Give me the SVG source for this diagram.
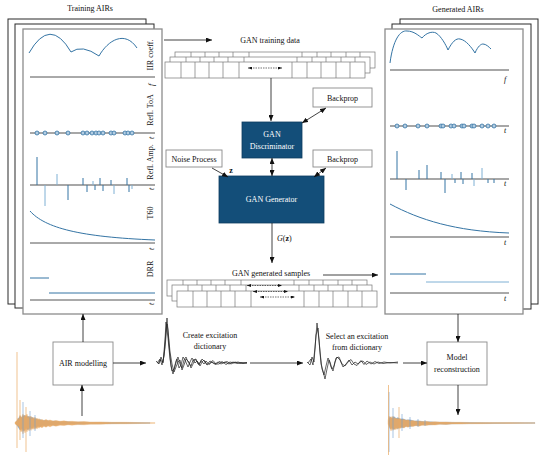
<svg xmlns="http://www.w3.org/2000/svg" xmlns:xlink="http://www.w3.org/1999/xlink" width="545" height="459" viewBox="0 0 545 459">
<style>
text{font-family:"Liberation Serif","Times New Roman",serif;font-size:8px;fill:#111}
.pg{fill:#fff;stroke:#2a2a2a;stroke-width:1}
.pgf{fill:#fff;stroke:#8c8c8c;stroke-width:1.3}
.box{fill:#fff;stroke:#8a8a8a;stroke-width:0.9}
.gan{fill:#134e79;stroke:#0d3d60;stroke-width:0.8}
.gt{fill:#fff;font-size:8px}
.ax{stroke:#555;stroke-width:1}
.axg{stroke:#8a8a8a;stroke-width:1.6}
.cv{fill:none;stroke:#3474a4;stroke-width:1}
.sp{stroke:#3474a4;stroke-width:1}
.spl{stroke:#7fb0d4;stroke-width:1}
.dot{fill:#b3cde2;stroke:#3474a4;stroke-width:0.8}
.ln{fill:none;stroke:#111;stroke-width:0.8}
.dl{fill:none;stroke:#111;stroke-width:0.6;stroke-dasharray:1.5 1}
.cell{fill:#fff;stroke:#777;stroke-width:0.7}
.it{font-style:italic}
.ex{fill:none;stroke:#222;stroke-width:0.7}
.wo{fill:#eaa962;stroke:#eaa962;stroke-width:0.3;opacity:0.9}
.wb{fill:#7aa6d2;stroke:#7aa6d2;stroke-width:0.3}
.so{stroke:#eaa962;stroke-width:0.7}
.sb{stroke:#6f9fd0;stroke-width:0.6}
</style>
<defs>
<marker id="ah" markerWidth="6" markerHeight="5" refX="6" refY="2.5" orient="auto-start-reverse" markerUnits="userSpaceOnUse">
<path d="M0,0 L6,2.5 L0,5 z" fill="#111"/>
</marker>
<marker id="sh" markerWidth="4" markerHeight="3" refX="4" refY="1.5" orient="auto-start-reverse" markerUnits="userSpaceOnUse">
<path d="M0,0 L4,1.5 L0,3 z" fill="#111"/>
</marker>
<g id="row">
<rect class="cell" x="0" y="0" width="200" height="16"/>
<path class="cell" d="M16,0V16M30,0V16M44,0V16M58,0V16M74,0V16M127,0V16M142,0V16M156,0V16M171,0V16M185,0V16"/>
</g>
</defs>

<text x="90" y="11" text-anchor="middle" font-size="8.5">Training AIRs</text>
<text x="458" y="12" text-anchor="middle" font-size="8.5">Generated AIRs</text>

<g id="training-airs">
<rect class="pg" x="8" y="19" width="138" height="285"/>
<rect class="pg" x="15" y="24" width="139" height="284"/>
<rect class="pgf" x="23" y="29" width="139" height="285"/>
<path class="cv" d="M29,53 Q50,16 71,52 Q82,44 99,56 C108,40 125,30 137,48"/>
<line class="ax" x1="30" y1="77" x2="155" y2="77"/>
<text transform="translate(153,55) rotate(-90)" text-anchor="middle">IIR coeff.</text>
<text class="it" transform="translate(154,85) rotate(-90)" text-anchor="middle">f</text>
<line class="axg" x1="30" y1="133" x2="155" y2="133"/>
<g class="dot">
<circle cx="37" cy="133" r="2"/><circle cx="45" cy="133" r="2"/><circle cx="57" cy="133" r="2"/><circle cx="68" cy="133" r="2"/><circle cx="83" cy="133" r="2"/><circle cx="87" cy="133" r="2"/><circle cx="92" cy="133" r="2"/><circle cx="96" cy="133" r="2"/><circle cx="99" cy="133" r="2"/><circle cx="103" cy="133" r="2"/><circle cx="111" cy="133" r="2"/><circle cx="114" cy="133" r="2"/><circle cx="125" cy="133" r="2"/><circle cx="128" cy="133" r="2"/><circle cx="132" cy="133" r="2"/>
</g>
<text transform="translate(153,110) rotate(-90)" text-anchor="middle">Refl. ToA</text>
<text class="it" transform="translate(154,138) rotate(-90)" text-anchor="middle">t</text>
<line class="axg" x1="30" y1="185" x2="155" y2="185"/>
<path class="sp" d="M37,185V157M68,185V200M83,185V178M87,185V192M95,185V190M100,185V178M103,185V191M111,185V180M127,185V178M129,185V192"/>
<path class="spl" d="M45,185V206M57,185V174M93,185V181M114,185V194M132,185V189"/>
<text transform="translate(153,162) rotate(-90)" text-anchor="middle">Refl. Amp.</text>
<text class="it" transform="translate(154,189) rotate(-90)" text-anchor="middle">t</text>
<path class="cv" d="M30,211 C45,228 80,237 155,240"/>
<line class="ax" x1="30" y1="243" x2="155" y2="243"/>
<text transform="translate(153,213) rotate(-90)" text-anchor="middle">T60</text>
<text class="it" transform="translate(154,249) rotate(-90)" text-anchor="middle">t</text>
<path class="sp" d="M30,278H49M49,293H155"/>
<line class="ax" x1="30" y1="300" x2="155" y2="300"/>
<text transform="translate(153,269) rotate(-90)" text-anchor="middle">DRR</text>
<text class="it" transform="translate(154,304) rotate(-90)" text-anchor="middle">t</text>
</g>

<g id="generated-airs">
<rect class="pg" x="400" y="19" width="138" height="285"/>
<rect class="pg" x="392" y="24" width="139" height="285"/>
<rect class="pgf" x="385" y="29" width="138" height="285"/>
<path class="cv" d="M390,63 C393,40 400,30 407,31 C414,31 419,36 422,38 C426,33 432,31 436,33 C441,36 446,45 448,50 C452,42 456,38 460,39 C466,40 472,48 475,53 C478,46 481,44 483,44 C486,44 489,47 491,49"/>
<line class="axg" x1="390" y1="70" x2="509" y2="70"/>
<text class="it" x="505" y="82" text-anchor="middle">f</text>
<line class="axg" x1="390" y1="126" x2="509" y2="126"/>
<g class="dot">
<circle cx="397" cy="126" r="2"/><circle cx="405" cy="126" r="2"/><circle cx="418" cy="126" r="2"/><circle cx="427" cy="126" r="2"/><circle cx="441" cy="126" r="2"/><circle cx="443" cy="126" r="2"/><circle cx="451" cy="126" r="2"/><circle cx="454" cy="126" r="2"/><circle cx="462" cy="126" r="2"/><circle cx="464" cy="126" r="2"/><circle cx="472" cy="126" r="2"/><circle cx="474" cy="126" r="2"/><circle cx="482" cy="126" r="2"/><circle cx="488" cy="126" r="2"/><circle cx="494" cy="126" r="2"/>
</g>
<text class="it" x="505" y="133" text-anchor="middle">t</text>
<line class="axg" x1="390" y1="179" x2="509" y2="179"/>
<path class="sp" d="M397,179V151M406,179V190M419,179V170M427,179V165M441,179V172M445,179V193M455,179V183M461,179V172M463,179V184M472,179V173M488,179V183M494,179V183"/>
<path class="spl" d="M452,179V174M474,179V186M482,179V168"/>
<text class="it" x="505" y="186" text-anchor="middle">t</text>
<path class="cv" d="M390,204 C420,220 455,231 509,233"/>
<line class="axg" x1="390" y1="237" x2="509" y2="237"/>
<text class="it" x="505" y="245" text-anchor="middle">t</text>
<path class="sp" d="M390,274H426"/>
<path class="spl" d="M426,282H509" stroke-width="1.3"/>
<line class="ax" x1="390" y1="293" x2="509" y2="293"/>
<text class="it" x="505" y="301" text-anchor="middle">t</text>
</g>

<g id="gan-training-data">
<text x="270" y="43" text-anchor="middle">GAN training data</text>
<use xlink:href="#row" x="175" y="52"/>
<use xlink:href="#row" x="170" y="57"/>
<use xlink:href="#row" x="165" y="62"/>
<line class="dl" x1="248" y1="68" x2="282" y2="68" marker-start="url(#sh)" marker-end="url(#sh)"/>
</g>

<g id="discriminator">
<rect class="gan" x="242" y="122" width="60" height="36"/>
<text class="gt" x="272" y="137" text-anchor="middle">GAN</text>
<text class="gt" x="272" y="149" text-anchor="middle">Discriminator</text>
</g>
<g id="backprop-top">
<rect class="box" x="313" y="88" width="59" height="19"/>
<text x="342.5" y="100.5" text-anchor="middle">Backprop</text>
</g>
<g id="noise-process">
<rect class="box" x="166" y="150" width="56" height="17"/>
<text x="194" y="161.5" text-anchor="middle">Noise Process</text>
</g>
<text x="231" y="173" font-weight="bold" text-anchor="middle">z</text>
<g id="backprop-bottom">
<rect class="box" x="313" y="150" width="59" height="17"/>
<text x="342.5" y="161.5" text-anchor="middle">Backprop</text>
</g>
<g id="generator">
<rect class="gan" x="219" y="176" width="105" height="47"/>
<text class="gt" x="271.5" y="202" text-anchor="middle">GAN Generator</text>
</g>
<text x="277" y="241"><tspan class="it">G</tspan>(<tspan font-weight="bold">z</tspan>)</text>

<g id="gan-generated-samples">
<text x="271" y="276" text-anchor="middle">GAN generated samples</text>
<use xlink:href="#row" x="167" y="280"/>
<use xlink:href="#row" x="172" y="285"/>
<use xlink:href="#row" x="177" y="291"/>
<line class="dl" x1="247" y1="285.5" x2="282" y2="285.5" marker-start="url(#sh)" marker-end="url(#sh)"/>
<line class="dl" x1="253" y1="291.5" x2="288" y2="291.5" marker-start="url(#sh)" marker-end="url(#sh)"/>
<line class="dl" x1="260" y1="297" x2="295" y2="297" marker-start="url(#sh)" marker-end="url(#sh)"/>
</g>

<g id="air-modelling">
<rect class="box" x="53" y="342" width="60" height="43"/>
<text x="83" y="366" text-anchor="middle">AIR modelling</text>
</g>
<g id="model-reconstruction">
<rect class="box" x="427" y="342" width="60" height="43"/>
<text x="457" y="360" text-anchor="middle">Model</text>
<text x="457" y="372" text-anchor="middle">reconstruction</text>
</g>

<g id="excitation-dictionary">
<path class="ex" d="M157,363 L160,359 L162,365 L164,356 L166,330 L167,318 L169,345 L171,366 L173,374 L175,366 L177,359 L179,368 L181,365 L183,357 L185,360 L188,367 L190,362 L192,358 L195,363 L197,361 L199,365 L201,360.5 L204,364 L206,361 L209,364.5 L212,362 L215,364 L218,362 L221,364 L225,362 L229,364 L233,362 L237,363.5 L241,362.5 L247,363"/>
<path class="ex" stroke="#555" d="M156,361 L159,364 L161,357 L163,363 L165,340 L166,322 L168,338 L170,359 L172,371 L174,369 L176,361 L178,357 L180,364 L182,368 L184,360 L186,357 L188,362 L191,366 L193,360 L196,359 L198,364 L200,363 L202,359 L205,362 L207,364.5 L210,361 L213,363 L216,364.5 L219,361.5 L223,363 L227,361.5 L231,364 L235,362 L240,363.5 L247,362.5"/>
<path class="ex" stroke="#444" d="M158,364 L160,360 L163,362 L165,348 L167,324 L168,330 L170,352 L172,364 L174,372 L176,367 L178,362 L180,360 L182,370 L184,365 L186,359 L189,362 L191,368 L193,364 L195,359.5 L198,362 L200,366 L202,362 L204,360 L207,365 L210,363 L213,360.5 L216,364 L219,364 L222,361.5 L226,364.5 L230,362 L234,363 L238,362 L243,363.5 L247,363"/>
<text x="210" y="338" text-anchor="middle">Create excitation</text>
<text x="210" y="349" text-anchor="middle">dictionary</text>
</g>
<g id="selected-excitation">
<path class="ex" d="M308,363 L311,359 L313,365 L315,348 L317,323 L319,340 L321,364 L323,371 L325,379 L327,369 L329,360 L331,367 L333,371 L335,362 L337,357 L340,360 L343,367 L346,364 L349,360 L352,365 L355,362 L358,364 L361,360.5 L364,364.5 L367,361 L371,364 L375,361.5 L379,363.5 L384,362 L390,363 L398,362"/>
<path class="ex" stroke="#555" d="M307,362 L310,365 L312,357 L314,362 L316,335 L318,328 L320,352 L322,369 L324,375 L326,366 L328,358 L330,362 L332,369 L334,366 L336,358 L339,357 L342,364 L345,366 L348,362 L351,359.5 L354,364 L357,365.5 L360,362 L363,361 L366,364.5 L370,362 L374,364 L378,362 L383,363.5 L390,362.5 L398,363"/>
<text x="357" y="339" text-anchor="middle">Select an excitation</text>
<text x="357" y="350" text-anchor="middle">from dictionary</text>
</g>

<g id="measured-air">
<path class="wb" d="M16,422 18,419 20,416 22,418 24,415 26,417 28,416 30,418 32,417 34,419 36,418.5 38,420 40,419.5 43,420.5 46,420.3 50,421.2 55,421 60,421.8 66,421.6 72,422.1 80,422 90,422.4 105,422.4 120,422.6 150,422.8 150,423.2 120,423.5 105,423.7 90,423.8 80,424.2 72,424.1 66,424.6 60,424.4 55,425.2 50,424.9 46,426 43,425.6 40,426.8 38,426 36,427.6 34,426.5 32,428.5 30,427 28,430 26,428 24,431 22,428.5 20,430 18,427 16,424z"/>
<path class="wo" d="M15,422 17,421 18,418 19,420 20,415 21,418 22,416 23,414 24,417 25,415 26,416 27,414 28,418 29,416 30,417 31,416 32,419 33,417 34,418.5 35,417 36,419.5 37,418 38,419.5 39,418.5 40,420 42,419.5 44,420.5 46,419.5 48,420.5 50,420 53,421 56,420.5 60,421.3 64,420.8 68,421.6 72,421.3 78,421.8 84,421.6 90,422 100,421.9 112,422.3 125,422.3 140,422.6 155,422.7 155,423.3 140,423.5 125,423.8 112,423.8 100,424.2 90,424.3 84,424.8 78,424.6 72,425.2 68,424.8 64,425.6 60,425.2 56,426.2 53,425.6 50,426.8 48,426 46,427.2 44,426.3 42,427.8 40,426.8 39,428.3 38,427 37,429 36,427.5 35,429.5 34,428 33,429.5 32,428 31,430.5 30,428.5 29,431 28,428 27,432 26,429 25,433 24,429.5 23,434 22,430 21,432 20,429 19,427 18,426 17,425 15,424z"/>
<path class="sb" d="M23,423V402M23,423V438M30,423V411M30,423V436M35,423V415M35,423V431"/>
<path class="so" d="M17,423V352M17,423V448M26,423V407M26,423V452M20,423V400M20,423V440"/>
</g>
<g id="reconstructed-air">
<path class="wb" d="M389,421 390,417 392,418.5 394,416.5 396,418.5 398,417.5 400,419 403,418.8 406,420 410,419.8 414,421 418,420.8 424,421.8 430,421.7 438,422.2 446,422.2 455,422.5 470,422.6 490,422.7 535,422.8 535,423.2 490,423.4 470,423.6 455,423.8 446,424.2 438,424.1 430,424.8 424,424.6 418,425.6 414,425.4 410,426.5 406,426.2 403,427.5 400,427 398,428.8 396,427.6 394,429.6 392,427.8 390,428.8 389,425z"/>
<path class="wo" d="M388,421 389,416 390,418 391,416.5 392,418 393,416 394,418.5 395,417.5 396,419 397,418 398,419 400,418.5 402,419.8 404,419.3 406,420.2 408,419.8 410,420.8 413,420.5 416,421.3 419,420.9 422,421.6 426,421.3 430,421.9 435,421.7 440,422.1 446,422 452,422.3 460,422.3 470,422.5 480,422.5 495,422.6 510,422.6 535,422.8 535,423.2 510,423.5 495,423.5 480,423.7 470,423.7 460,424 452,424 446,424.5 440,424.3 435,425 430,424.8 426,425.5 422,425.2 419,426.2 416,425.6 413,426.6 410,426.2 408,427.3 406,426.6 404,428 402,427.3 400,428.5 398,427.8 397,429.5 396,428.2 395,430 394,428.2 393,430.5 392,428.6 391,431 390,428 389,426 388,424z"/>
<path class="sb" d="M389,423V392M389,423V452M393,423V408M393,423V438M402,423V414M402,423V431M410,423V417M410,423V429M418,423V419M418,423V427M425,423V420M425,423V426"/>
<path class="so" d="M388.5,423V385M388.5,423V455M399,423V407M399,423V438"/>
</g>

<g id="connectors">
<line class="ln" x1="164" y1="40" x2="212" y2="40" marker-end="url(#ah)"/>
<line class="ln" x1="271" y1="78" x2="271" y2="121" marker-end="url(#ah)"/>
<line class="ln" x1="326" y1="108" x2="302" y2="123" marker-start="url(#ah)" marker-end="url(#ah)"/>
<line class="ln" x1="272" y1="158" x2="272" y2="176" marker-start="url(#ah)" marker-end="url(#ah)"/>
<line class="ln" x1="212" y1="168" x2="228" y2="177" marker-end="url(#ah)"/>
<line class="ln" x1="326" y1="168" x2="314" y2="177" marker-start="url(#ah)" marker-end="url(#ah)"/>
<line class="ln" x1="272" y1="223" x2="272" y2="263" marker-end="url(#ah)"/>
<line class="ln" x1="323" y1="275" x2="378" y2="275" marker-end="url(#ah)"/>
<line class="ln" x1="83" y1="342" x2="83" y2="314" marker-end="url(#ah)"/>
<line class="ln" x1="82" y1="416" x2="82" y2="385" marker-end="url(#ah)"/>
<line class="ln" x1="113" y1="363" x2="146" y2="363" marker-end="url(#ah)"/>
<line class="ln" x1="250" y1="363" x2="303" y2="363" marker-end="url(#ah)"/>
<line class="ln" x1="403" y1="363" x2="427" y2="363" marker-end="url(#ah)"/>
<line class="ln" x1="458" y1="314" x2="458" y2="342" marker-end="url(#ah)"/>
<line class="ln" x1="458" y1="385" x2="458" y2="415" marker-end="url(#ah)"/>
</g>
</svg>
